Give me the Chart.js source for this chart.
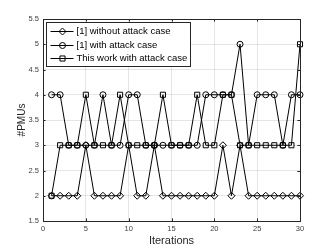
<!DOCTYPE html>
<html>
<head>
<meta charset="utf-8">
<script src="https://cdn.jsdelivr.net/npm/chart.js@4/dist/chart.umd.min.js"></script>
<style>
  html, body { margin: 0; padding: 0; background: #fff; }
  #wrap { width: 332px; height: 249px; }
</style>
</head>
<body>
<div id="wrap"><canvas id="chart" width="332" height="249"></canvas></div>
<script>
// values
const iterations = [1, 2, 3, 4, 5, 6, 7, 8, 9, 10, 11, 12, 13, 14, 15, 16, 17, 18, 19, 20, 21, 22, 23, 24, 25, 26, 27, 28, 29, 30];
const withoutAttack = [2, 2, 2, 2, 3, 2, 2, 2, 2, 3, 2, 2, 3, 2, 2, 2, 2, 2, 2, 2, 3, 2, 3, 2, 2, 2, 2, 2, 2, 2];
const withAttack = [4, 4, 3, 3, 3, 3, 4, 3, 3, 4, 4, 3, 3, 3, 3, 3, 3, 3, 4, 4, 4, 4, 5, 3, 4, 4, 4, 3, 4, 4];
const thisWork = [2, 3, 3, 3, 4, 3, 3, 3, 4, 3, 3, 3, 3, 4, 3, 3, 3, 4, 3, 3, 4, 4, 3, 3, 3, 3, 3, 3, 3, 5];
const seriesNames = ["[1] without attack case", "[1] with attack case", "This work with attack case"];
const xTicks = [0, 5, 10, 15, 20, 25, 30];
const yTicks = [1.5, 2, 2.5, 3, 3.5, 4, 4.5, 5, 5.5];

const toPoints = ys => iterations.map((x, i) => ({ x: x, y: ys[i] }));

const markers = [
  { style: "rectRot", radius: 3.5 },
  { style: "circle", radius: 3 },
  { style: "rect", radius: 3.6 }
];

function makeSet(label, ys, m) {
  return {
    label: label,
    data: toPoints(ys),
    borderColor: "#000",
    borderWidth: 1,
    pointStyle: m.style,
    pointRadius: m.radius,
    pointBorderColor: "#000",
    pointBorderWidth: 1,
    pointBackgroundColor: "rgba(0,0,0,0)",
    tension: 0,
    clip: false
  };
}

// matlab-like box with inward ticks
const boxPlugin = {
  id: "boxPlugin",
  afterDraw(chart) {
    const ctx = chart.ctx;
    const a = chart.chartArea;
    const xs = chart.scales.x, ys = chart.scales.y;
    ctx.save();
    ctx.strokeStyle = "#262626";
    ctx.lineWidth = 1;
    ctx.strokeRect(Math.round(a.left) + 0.5, Math.round(a.top) + 0.5,
      Math.round(a.right - a.left), Math.round(a.bottom - a.top));
    const tl = 2.6;
    ctx.beginPath();
    xTicks.forEach(v => {
      const px = Math.round(xs.getPixelForValue(v)) + 0.5;
      ctx.moveTo(px, a.bottom); ctx.lineTo(px, a.bottom - tl);
      ctx.moveTo(px, a.top); ctx.lineTo(px, a.top + tl);
    });
    yTicks.forEach(v => {
      const py = Math.round(ys.getPixelForValue(v)) + 0.5;
      ctx.moveTo(a.left, py); ctx.lineTo(a.left + tl, py);
      ctx.moveTo(a.right, py); ctx.lineTo(a.right - tl, py);
    });
    ctx.stroke();
    ctx.restore();
  }
};

function drawMarker(ctx, style, x, y, r) {
  ctx.beginPath();
  if (style === "circle") {
    ctx.arc(x, y, r, 0, Math.PI * 2);
  } else if (style === "rect") {
    const s = r * Math.SQRT1_2;
    ctx.rect(x - s, y - s, 2 * s, 2 * s);
  } else {
    ctx.moveTo(x, y - r); ctx.lineTo(x + r, y); ctx.lineTo(x, y + r); ctx.lineTo(x - r, y);
    ctx.closePath();
  }
  ctx.stroke();
}

// legend box in the top left corner of the axes
const legendPlugin = {
  id: "legendBox",
  afterDraw(chart) {
    const ctx = chart.ctx;
    const a = chart.chartArea;
    const bx = Math.round(a.left) + 3.5, by = Math.round(a.top) + 3.5;
    const bw = 144, bh = 44;
    ctx.save();
    ctx.fillStyle = "#fff";
    ctx.fillRect(bx, by, bw, bh);
    ctx.strokeStyle = "#262626";
    ctx.lineWidth = 1;
    ctx.strokeRect(bx, by, bw, bh);
    ctx.font = "9.5px 'Liberation Sans', Arial, sans-serif";
    ctx.textBaseline = "middle";
    ctx.fillStyle = "#000";
    const rows = [8.5, 22, 35.5];
    chart.data.datasets.forEach((ds, i) => {
      const y = Math.round(by + rows[i]) + 0.5;
      ctx.strokeStyle = "#000";
      ctx.beginPath();
      ctx.moveTo(bx + 4, y); ctx.lineTo(bx + 27, y);
      ctx.stroke();
      drawMarker(ctx, markers[i].style, bx + 16, y, markers[i].radius);
      ctx.fillText(ds.label, bx + 30, y);
    });
    ctx.restore();
  }
};

new Chart(document.getElementById("chart").getContext("2d"), {
  type: "line",
  data: {
    datasets: [
      makeSet(seriesNames[0], withoutAttack, markers[0]),
      makeSet(seriesNames[1], withAttack, markers[1]),
      makeSet(seriesNames[2], thisWork, markers[2])
    ]
  },
  options: {
    responsive: false,
    animation: false,
    devicePixelRatio: 1,
    layout: { padding: { left: 0, right: 32, top: 19, bottom: 0 } },
    plugins: {
      legend: { display: false },
      tooltip: { enabled: false }
    },
    scales: {
      x: {
        type: "linear",
        min: 0,
        max: 30,
        afterBuildTicks: s => { s.ticks = xTicks.map(v => ({ value: v })); },
        afterFit: s => { s.height = 28; },
        grid: { color: "rgba(38,38,38,0.12)", drawTicks: false },
        border: { display: false },
        ticks: {
          padding: 3,
          color: "#404040",
          font: { family: "'Liberation Sans', Arial, sans-serif", size: 7.5 },
          maxRotation: 0,
          callback: v => String(v)
        },
        title: {
          display: true,
          text: "Iterations",
          color: "#262626",
          padding: { top: 0, bottom: 1 },
          font: { family: "'Liberation Sans', Arial, sans-serif", size: 11 }
        }
      },
      y: {
        min: 1.5,
        max: 5.5,
        afterBuildTicks: s => { s.ticks = yTicks.map(v => ({ value: v })); },
        afterFit: s => { s.width = 43; },
        grid: { color: "rgba(38,38,38,0.12)", drawTicks: false },
        border: { display: false },
        ticks: {
          padding: 4,
          color: "#404040",
          font: { family: "'Liberation Sans', Arial, sans-serif", size: 7.5 },
          callback: v => String(v)
        },
        title: {
          display: true,
          text: "#PMUs",
          color: "#262626",
          padding: { top: 16, bottom: 0 },
          font: { family: "'Liberation Sans', Arial, sans-serif", size: 10 }
        }
      }
    }
  },
  plugins: [boxPlugin, legendPlugin]
});
</script>
</body>
</html>
